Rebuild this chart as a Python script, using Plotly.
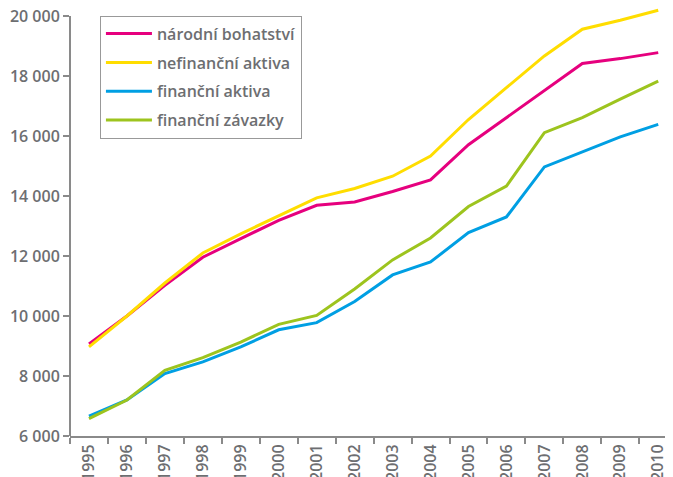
import plotly.graph_objects as go

years = [str(y) for y in range(1995, 2011)]

narodni_bohatstvi = [9070, 10000, 11020, 11960, 12580, 13190, 13690, 13800,
                     14150, 14540, 15710, 16610, 17500, 18420, 18580, 18780]
nefinancni_aktiva = [8970, 10000, 11100, 12100, 12740, 13350, 13940, 14250,
                     14660, 15330, 16550, 17610, 18670, 19560, 19860, 20190]
financni_aktiva = [6660, 7200, 8080, 8470, 8970, 9540, 9780, 10480,
                   11370, 11800, 12780, 13300, 14970, 15470, 15970, 16390]
financni_zavazky = [6580, 7200, 8190, 8610, 9130, 9720, 10020, 10900,
                    11870, 12600, 13650, 14330, 16110, 16610, 17230, 17830]

series = [
    ("národní bohatství", narodni_bohatstvi, "#E6007E"),
    ("nefinanční aktiva", nefinancni_aktiva, "#FFDD00"),
    ("finanční aktiva", financni_aktiva, "#009FE3"),
    ("finanční závazky", financni_zavazky, "#9DC41E"),
]

GRAY = "#6d6e71"
AXIS = "#8a8a8a"
FONT = dict(family="Open Sans", size=16, color=GRAY, weight=600)

fig = go.Figure()
for i, (name, vals, color) in enumerate(series):
    fig.add_trace(go.Scatter(
        x=years, y=vals, name=name, mode="lines",
        line=dict(color=color, width=3),
        legendgroup=str(i),
    ))

# y axis line stops at 20 000 while the lines may go a bit above it
fig.add_shape(type="line", xref="paper", yref="y",
              x0=0, x1=0, y0=6000, y1=20000,
              line=dict(color=AXIS, width=2))

# the page puts the figure 8px in from the top-left corner
fig.update_layout(
    width=673, height=477,
    margin=dict(l=62, r=0, t=0, b=49),
    plot_bgcolor="white",
    paper_bgcolor="white",
    font=FONT,
    separators=", ",
    showlegend=True,
    legend=dict(
        x=0.049, y=0.982, xanchor="left", yanchor="top",
        bordercolor="#999999", borderwidth=1,
        font=FONT, tracegroupgap=5, traceorder="grouped",
        itemwidth=46,
    ),
)

fig.update_xaxes(
    type="category",
    range=[-0.5, 15.6],
    tickangle=-90,
    ticks="outside", ticklen=6, tickwidth=1.5, tickcolor=AXIS,
    tickson="boundaries",
    showline=True, linecolor=AXIS, linewidth=2,
    showgrid=False, zeroline=False,
    tickfont=FONT,
    automargin=False,
)
fig.update_yaxes(
    range=[6000, 20267],
    tickvals=[6000, 8000, 10000, 12000, 14000, 16000, 18000, 20000],
    tickformat=",d",
    ticks="outside", ticklen=6, tickwidth=1.5, tickcolor=AXIS,
    showline=False,
    showgrid=False, zeroline=False,
    tickfont=FONT,
    ticklabeloverflow="allow",
    automargin=False,
)

fig.write_html("out.html")
